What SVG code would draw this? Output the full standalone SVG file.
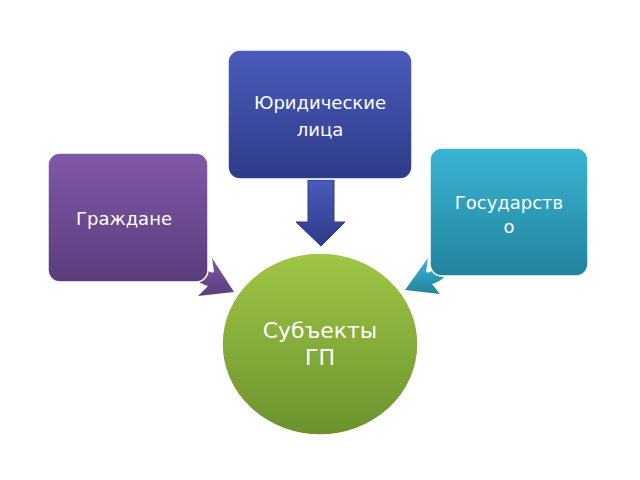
<svg xmlns="http://www.w3.org/2000/svg" width="640" height="480" viewBox="0 0 640 480">
<style>
.t{font-family:"DejaVu Sans","Liberation Sans",sans-serif;fill:#fff;text-anchor:middle;font-size:18px}
.b{stroke:#fff;stroke-width:1.5}
</style>
<defs>
<linearGradient id="gp" x1="0" y1="0" x2="0" y2="1"><stop offset="0" stop-color="#8058a8"/><stop offset="1" stop-color="#5a3d7c"/></linearGradient>
<linearGradient id="gb" x1="0" y1="0" x2="0" y2="1"><stop offset="0" stop-color="#4b5cbb"/><stop offset="1" stop-color="#2e3b88"/></linearGradient>
<linearGradient id="gt" x1="0" y1="0" x2="0" y2="1"><stop offset="0" stop-color="#3ab4d4"/><stop offset="1" stop-color="#22849c"/></linearGradient>
<linearGradient id="gg" x1="0" y1="0" x2="0" y2="1"><stop offset="0" stop-color="#a0c646"/><stop offset="1" stop-color="#6c922e"/></linearGradient>
</defs>
<rect width="640" height="480" fill="#fff"/>
<g id="connectors">
<path d="M308,180 H334 V222 H345 L321,246 L296,222 H308 Z" fill="url(#gb)" stroke="#2e3b88" stroke-width="1"/>
<path d="M200,262 Q210,275 214,272 L212,258 L234,292 L198,296 L208,286 Q200,284 195,278 Z" fill="url(#gp)"/>
<path d="M440,262 Q430,275 426,272 L428,258 L405,290 L440,294 L432,284 Q440,282 445,276 Z" fill="url(#gt)"/>
</g>
<g id="grazhdane"><rect class="b" x="48" y="153" width="160" height="129" rx="12" fill="url(#gp)"/><text class="t" x="124" y="225">Граждане</text></g>
<g id="yurlica"><rect class="b" x="228" y="50" width="184" height="129" rx="12" fill="url(#gb)"/><text class="t" x="320" y="109">Юридические</text><text class="t" x="320" y="136">лица</text></g>
<g id="gosudarstvo"><rect class="b" x="430" y="148" width="158" height="128" rx="12" fill="url(#gt)"/><text class="t" x="509" y="209">Государств</text><text class="t" x="509" y="233">о</text></g>
<g id="subjekty"><ellipse class="b" cx="320" cy="344" rx="98" ry="91" fill="url(#gg)"/><text class="t" style="font-size:22px" x="320" y="338">Субъекты</text><text class="t" style="font-size:22px" x="320" y="365">ГП</text></g>
</svg>
